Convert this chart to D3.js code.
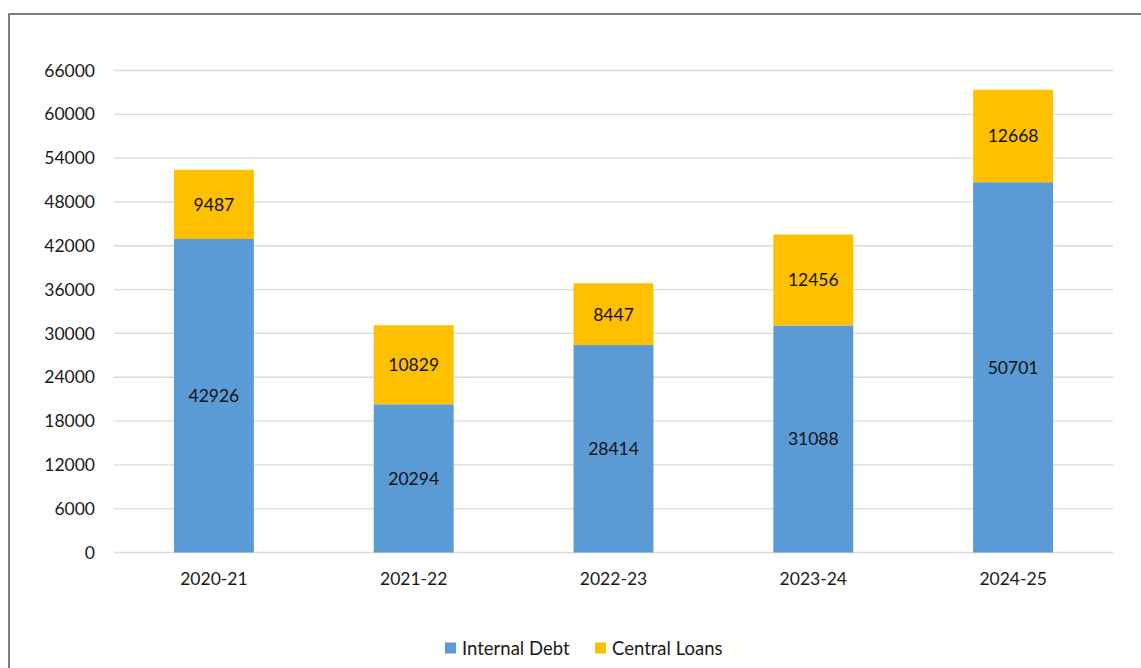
<!DOCTYPE html>
<html>
<head>
<meta charset="utf-8">
<script src="https://cdn.jsdelivr.net/npm/d3@7"></script>
<style>
  html, body { margin: 0; padding: 0; background: #fff; }
  svg { display: block; font-family: Lato, "Open Sans", sans-serif; }
</style>
</head>
<body>
<svg id="chart" width="1141" height="668"></svg>
<script>
// Yearly figures: internal debt and central loans
const years = ["2020-21", "2021-22", "2022-23", "2023-24", "2024-25"];
const internalDebt = [42926, 20294, 28414, 31088, 50701];
const centralLoans = [9487, 10829, 8447, 12456, 12668];
const yTicks = [0, 6000, 12000, 18000, 24000, 30000, 36000, 42000, 48000, 54000, 60000, 66000];
const seriesNames = ["Internal Debt", "Central Loans"];
const seriesColors = ["#5B9BD5", "#FFC000"];

const svg = d3.select("#chart");
const plot = { left: 114, right: 1113, top: 70.5, bottom: 552.5 };
const numSize = 17.5;

// Outer frame
svg.append("rect")
  .attr("x", 9).attr("y", 14)
  .attr("width", 1200).attr("height", 700)
  .attr("fill", "none")
  .attr("stroke", "#5f5f5f")
  .attr("stroke-width", 1.6);

const x = d3.scaleBand()
  .domain(years)
  .range([plot.left, plot.right])
  .paddingInner(0.6)
  .paddingOuter(0.3);

const y = d3.scaleLinear()
  .domain([0, 66000])
  .range([plot.bottom, plot.top]);

// Horizontal gridlines
svg.append("g")
  .selectAll("line")
  .data(yTicks)
  .join("line")
  .attr("x1", plot.left).attr("x2", plot.right)
  .attr("y1", d => y(d)).attr("y2", d => y(d))
  .attr("stroke", "#d9d9d9")
  .attr("stroke-width", 1.3);

// Y axis labels
const yAxis = d3.axisLeft(y).tickValues(yTicks).tickFormat(d3.format("d")).tickSize(0).tickPadding(19);
const gy = svg.append("g").attr("transform", `translate(${plot.left},0)`).call(yAxis);
gy.select(".domain").remove();
gy.selectAll("text").attr("font-size", numSize).attr("fill", "#1a1a1a").attr("font-family", "Lato, sans-serif");

// X axis labels
const xAxis = d3.axisBottom(x).tickSize(0).tickPadding(20);
const gx = svg.append("g").attr("transform", `translate(0,${plot.bottom})`).call(xAxis);
gx.select(".domain").remove();
gx.selectAll("text").attr("font-size", numSize).attr("fill", "#1a1a1a").attr("font-family", "Lato, sans-serif");

// Stacked bars
const rows = years.map((yr, i) => ({ year: yr, "Internal Debt": internalDebt[i], "Central Loans": centralLoans[i] }));
const stacked = d3.stack().keys(seriesNames)(rows);

const layers = svg.append("g")
  .selectAll("g")
  .data(stacked)
  .join("g")
  .attr("fill", (d, i) => seriesColors[i]);

layers.selectAll("rect")
  .data(d => d)
  .join("rect")
  .attr("x", d => x(d.data.year))
  .attr("width", x.bandwidth())
  .attr("y", d => y(d[1]))
  .attr("height", d => y(d[0]) - y(d[1]));

// Value labels centred inside each segment
layers.selectAll("text")
  .data((d) => d.map(v => ({ v, key: d.key })))
  .join("text")
  .attr("x", d => x(d.v.data.year) + x.bandwidth() / 2)
  .attr("y", d => (y(d.v[0]) + y(d.v[1])) / 2)
  .attr("text-anchor", "middle")
  .attr("dominant-baseline", "central")
  .attr("font-size", numSize)
  .attr("fill", "#111")
  .text(d => d.v.data[d.key]);

// Legend
const legend = svg.append("g");
const legendItems = [
  { name: seriesNames[0], color: seriesColors[0], x: 445 },
  { name: seriesNames[1], color: seriesColors[1], x: 595 }
];
const li = legend.selectAll("g").data(legendItems).join("g")
  .attr("transform", d => `translate(${d.x},642.5)`);
li.append("rect").attr("width", 11).attr("height", 11).attr("fill", d => d.color);
li.append("text")
  .attr("x", 17).attr("y", 5.5)
  .attr("dominant-baseline", "central")
  .attr("font-size", 18.5)
  .attr("fill", "#1a1a1a")
  .text(d => d.name);
</script>
</body>
</html>
